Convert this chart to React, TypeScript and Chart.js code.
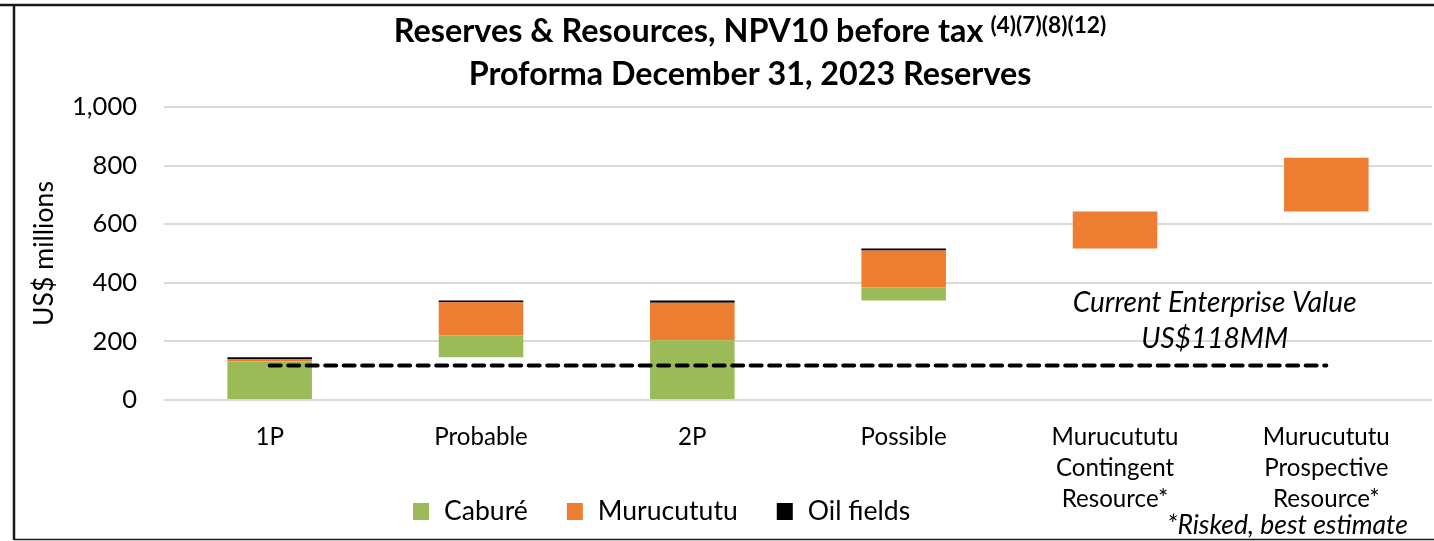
import { useEffect, useRef } from "react";
import { Chart, registerables } from "chart.js";

Chart.register(...registerables);

// ---- data ----
const CATEGORIES: string[][] = [
  ["1P"],
  ["Probable"],
  ["2P"],
  ["Possible"],
  ["Murucututu", "Contingent", "Resource*"],
  ["Murucututu", "Prospective", "Resource*"],
];
const BASE = [0, 146, 0, 340, 517, 643];
const CABURE = [131, 74, 204, 45, 0, 0];
const MURUCUTUTU = [9, 114, 128, 125, 126, 184];
const OIL_FIELDS = [6, 6, 8, 7, 0, 0];
const ENTERPRISE_VALUE_LINE = [118, 118, 118, 118, 118, 118];
const Y_TICKS = [0, 200, 400, 600, 800, 1000];

const SERIES_NAMES = ["Caburé", "Murucututu", "Oil fields"];
const SERIES_COLORS = ["#9BBB59", "#ED7D31", "#000000"];

const TITLE_1 = "Reserves & Resources, NPV10 before tax";
const TITLE_SUP = "(4)(7)(8)(12)";
const TITLE_2 = "Proforma December 31, 2023 Reserves";
const NOTE_1 = "Current Enterprise Value";
const NOTE_2 = "US$118MM";
const FOOTNOTE = "*Risked, best estimate";
const Y_TITLE = "US$ millions";

const FAMILY = "Lato, 'Open Sans', 'DejaVu Sans', sans-serif";

export default function App() {
  const ref = useRef<HTMLCanvasElement>(null);

  useEffect(() => {
    document.body.style.margin = "0";
    const canvas = ref.current!;
    const m = canvas.getContext("2d")!;
    const fit = (text: string, width: number, style: string) => {
      m.font = `${style} 100px ${FAMILY}`;
      return (100 * width) / m.measureText(text).width;
    };
    const S = {
      title1: fit(TITLE_1, 590, "bold"),
      title2: fit(TITLE_2, 563, "bold"),
      sup: fit(TITLE_SUP, 116, "bold"),
      yTick: fit("1,000", 65, ""),
      yTitle: fit(Y_TITLE, 145, ""),
      xTick: fit("Murucututu", 127, ""),
      legend: fit("Murucututu", 140, ""),
      note: fit(NOTE_1, 284, "italic"),
      foot: fit(FOOTNOTE, 241, "italic"),
    };

    const overlay = {
      id: "overlay",
      afterDraw(chart: any) {
        const ctx = chart.ctx as CanvasRenderingContext2D;
        const xs = chart.scales.x;
        const ys = chart.scales.y;
        ctx.save();
        // frame
        ctx.strokeStyle = "#1a1a1a";
        ctx.lineWidth = 2.5;
        ctx.beginPath();
        ctx.moveTo(0, 5);
        ctx.lineTo(1434, 5);
        ctx.moveTo(14, 5);
        ctx.lineTo(14, 540);
        ctx.stroke();
        ctx.lineWidth = 1.5;
        ctx.beginPath();
        ctx.moveTo(14, 539.5);
        ctx.lineTo(1434, 539.5);
        ctx.stroke();

        // title
        ctx.fillStyle = "#000";
        ctx.textBaseline = "alphabetic";
        ctx.textAlign = "left";
        ctx.font = `bold ${S.title1}px ${FAMILY}`;
        const w1 = ctx.measureText(TITLE_1).width;
        ctx.font = `bold ${S.sup}px ${FAMILY}`;
        const ws = ctx.measureText(TITLE_SUP).width;
        const gap = 7;
        const cx = 750;
        const start = cx - (w1 + gap + ws) / 2;
        ctx.font = `bold ${S.title1}px ${FAMILY}`;
        ctx.fillText(TITLE_1, start, 42);
        ctx.font = `bold ${S.sup}px ${FAMILY}`;
        ctx.fillText(TITLE_SUP, start + w1 + gap, 33);
        ctx.font = `bold ${S.title2}px ${FAMILY}`;
        ctx.textAlign = "center";
        ctx.fillText(TITLE_2, cx, 85);

        // enterprise value note
        ctx.font = `italic ${S.note}px ${FAMILY}`;
        const nx = (xs.getPixelForValue(4) + xs.getPixelForValue(5)) / 2 - 6;
        ctx.fillText(NOTE_1, nx, ys.getPixelForValue(300));
        ctx.fillText(NOTE_2, nx, ys.getPixelForValue(178));

        // footnote
        ctx.font = `italic ${S.foot}px ${FAMILY}`;
        ctx.textAlign = "left";
        ctx.fillText(FOOTNOTE, 1167, 534);

        // legend
        ctx.font = `${S.legend}px ${FAMILY}`;
        ctx.textBaseline = "middle";
        let x = 413;
        const cy = 511;
        SERIES_NAMES.forEach((name, i) => {
          ctx.fillStyle = SERIES_COLORS[i];
          ctx.fillRect(x, cy - 8, 16, 17);
          ctx.fillStyle = "#000";
          ctx.fillText(name, x + 31, cy);
          x += 31 + ctx.measureText(name).width + 39;
        });
        ctx.restore();
      },
    };

    const chart = new Chart(canvas, {
      type: "bar",
      data: {
        labels: CATEGORIES as any,
        datasets: [
          {
            type: "line",
            label: "Current Enterprise Value",
            data: ENTERPRISE_VALUE_LINE,
            borderColor: "#000",
            borderWidth: 4,
            borderDash: [11, 7.5],
            borderCapStyle: "round",
            pointRadius: 0,
            fill: false,
            stack: "ev",
            order: 0,
          } as any,
          {
            label: "",
            data: BASE,
            backgroundColor: "rgba(0,0,0,0)",
            stack: "s",
            order: 1,
          },
          {
            label: SERIES_NAMES[0],
            data: CABURE,
            backgroundColor: SERIES_COLORS[0],
            stack: "s",
            order: 1,
          },
          {
            label: SERIES_NAMES[1],
            data: MURUCUTUTU,
            backgroundColor: SERIES_COLORS[1],
            stack: "s",
            order: 1,
          },
          {
            label: SERIES_NAMES[2],
            data: OIL_FIELDS,
            backgroundColor: SERIES_COLORS[2],
            stack: "s",
            order: 1,
          },
        ],
      },
      options: {
        responsive: false,
        animation: false,
        datasets: {
          bar: { barPercentage: 0.4, categoryPercentage: 1, borderWidth: 0 },
        },
        layout: { padding: { top: 107, right: 2, left: 0, bottom: 0 } },
        plugins: {
          legend: { display: false },
          tooltip: { enabled: false },
          title: { display: false },
        },
        scales: {
          x: {
            stacked: true,
            grid: { display: false, drawTicks: false },
            border: { display: false },
            ticks: {
              color: "#000",
              font: { family: FAMILY, size: S.xTick, lineHeight: "31px" as any },
              padding: 22,
              maxRotation: 0,
              autoSkip: false,
            },
            afterFit: (s: any) => {
              s.height = 141;
            },
          },
          y: {
            stacked: true,
            min: 0,
            max: 1000,
            afterBuildTicks: (s: any) => {
              s.ticks = Y_TICKS.map((v) => ({ value: v }));
            },
            grid: { color: "#d9d9d9", lineWidth: 2, drawTicks: false },
            border: { display: false },
            ticks: {
              color: "#000",
              font: { family: FAMILY, size: S.yTick },
              padding: 27,
              callback: (v: any) => Number(v).toLocaleString("en-US"),
            },
            title: {
              display: true,
              text: Y_TITLE,
              color: "#000",
              font: { family: FAMILY, size: S.yTitle, lineHeight: 1.2 },
              padding: { top: 44 - (S.yTitle * 1.2) / 2, bottom: 0 },
            },
            afterFit: (s: any) => {
              s.width = 164;
            },
          },
        },
      },
      plugins: [overlay],
    });
    return () => chart.destroy();
  }, []);

  return (
    <div style={{ width: 1434, height: 541, position: "relative" }}>
      <canvas ref={ref} width={1434} height={541} style={{ display: "block" }} />
    </div>
  );
}
